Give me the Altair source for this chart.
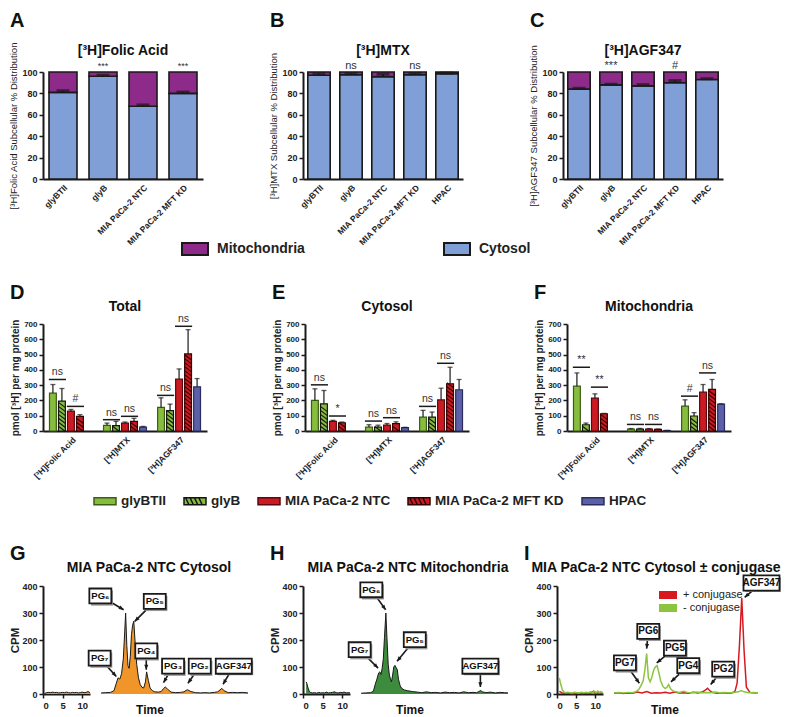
import json
import math

import altair as alt
import pandas as pd

FONT = "Liberation Sans"
INK = "#1a1a1a"
TXT = "#222222"

# ------------------------------------------------------------------ data
cells4 = ["glyBTII", "glyB", "MIA PaCa-2 NTC", "MIA PaCa-2 MFT KD"]
cells5 = ["glyBTII", "glyB", "MIA PaCa-2 NTC", "MIA PaCa-2 MFT KD", "HPAC"]
compartments = ["Mitochondria", "Cytosol"]

# Panels A-C: % of label found in the cytosol (mitochondria = remainder)
fa_cytosol = [81, 96, 68, 80]
fa_err = [1.5, 1.0, 1.2, 1.2]
fa_sig = ["", "***", "", "***"]
mtx_cytosol = [97.0, 97.5, 95.5, 97.5, 98.5]
mtx_err = [1.5, 1.0, 2.5, 1.0, 0.5]
mtx_sig = ["", "ns", "", "ns", ""]
agf_cytosol = [84, 88, 87, 90, 93]
agf_err = [0.8, 0.6, 1.2, 2.0, 0.8]
agf_sig = ["", "***", "", "#", ""]

# Panels D-F: pmol per mg protein (rows = compound, cols = cell line)
compounds = ["[³H]Folic Acid", "[³H]MTX", "[³H]AGF347"]
total_mean = [[248, 196, 130, 96, None], [37, 35, 52, 63, 26], [154, 133, 339, 504, 289]]
total_err = [[56, 82, 11, 11, None], [15, 28, 7, 20, 4], [63, 43, 67, 159, 54]]
total_sig = [(0, 0, 1, 337, "ns"), (0, 2, 3, 161, "#"), (1, 0, 1, 74, "ns"),
             (1, 2, 3, 96, "ns"), (2, 0, 1, 233, "ns"), (2, 2, 3, 685, "ns")]
cyto_mean = [[200, 178, 63, 54, None], [26, 26, 39, 48, 22], [91, 91, 204, 309, 270]]
cyto_err = [[76, 87, 7, 5, None], [15, 12, 10, 12, 2], [44, 33, 76, 108, 67]]
cyto_sig = [(0, 0, 1, 302, "ns"), (0, 2, 3, 98, "*"), (1, 0, 1, 65, "ns"),
            (1, 2, 3, 87, "ns"), (2, 0, 1, 161, "ns"), (2, 2, 3, 443, "ns")]
mito_mean = [[293, 41, 215, 113, None], [12, 12, 12, 10, 3], [163, 98, 254, 272, 176]]
mito_err = [[87, 11, 28, 2, None], [4, 5, 4, 3, 1], [41, 22, 50, 65, 2]]
mito_sig = [(0, 0, 1, 417, "**"), (0, 2, 3, 287, "**"), (1, 0, 1, 43, "ns"),
            (1, 2, 3, 43, "ns"), (2, 0, 1, 228, "#"), (2, 2, 3, 380, "ns")]

# Panels G-I: radio-HPLC traces (time, CPM)
g_left = [(0.5, 3), (1.0, 5), (1.5, 6), (2.0, 5), (2.5, 7), (3.0, 5), (3.5, 6), (4.0, 4),
          (4.5, 5), (5.0, 6), (5.5, 5), (6.0, 7), (6.5, 5), (7.0, 4), (7.5, 6), (8.0, 5),
          (8.5, 6), (9.0, 4), (9.5, 5), (10.0, 7), (10.5, 5), (11.0, 6), (11.5, 9), (12.0, 5)]
g_right = [(12.4, 4), (12.8, 5), (13.2, 6), (13.5, 12), (13.7, 40), (13.85, 60), (14.0, 55),
           (14.15, 75), (14.3, 130), (14.42, 230), (14.5, 300), (14.6, 180), (14.7, 105),
           (14.8, 95), (14.9, 140), (15.0, 220), (15.1, 255), (15.2, 270), (15.3, 200),
           (15.45, 110), (15.6, 60), (15.75, 35), (15.9, 25), (16.05, 22), (16.2, 45),
           (16.3, 82), (16.45, 50), (16.6, 22), (16.8, 12), (17.0, 8), (17.3, 7), (17.55, 9),
           (17.75, 20), (17.9, 26), (18.1, 18), (18.4, 7), (18.8, 5), (19.2, 6), (19.5, 8),
           (19.8, 16), (20.1, 9), (20.5, 5), (20.9, 4), (21.3, 5), (21.7, 4), (22.1, 6),
           (22.4, 8), (22.6, 15), (22.75, 21), (22.95, 12), (23.3, 5), (23.7, 6), (24.1, 5),
           (24.5, 6), (25.0, 4)]
h_left = [(0.8, 45), (1.0, 38), (1.3, 22), (1.6, 10), (2.0, 5), (2.5, 4), (3.0, 5), (3.5, 3),
          (4.0, 6), (4.5, 4), (5.0, 5), (5.5, 4), (6.0, 7), (6.5, 4), (7.0, 5), (7.5, 6),
          (8.0, 8), (8.5, 5), (9.0, 4), (9.5, 6), (10.0, 5), (10.5, 7), (11.0, 4), (11.5, 5),
          (12.0, 4)]
h_right = [(12.4, 3), (12.8, 4), (13.2, 5), (13.45, 10), (13.6, 35), (13.75, 55), (13.9, 78),
           (14.0, 82), (14.1, 72), (14.2, 95), (14.3, 130), (14.4, 210), (14.52, 300),
           (14.62, 200), (14.72, 110), (14.82, 70), (14.92, 55), (15.0, 45), (15.1, 70),
           (15.2, 100), (15.3, 106), (15.4, 98), (15.5, 90), (15.6, 55), (15.75, 30),
           (15.9, 20), (16.1, 15), (16.4, 12), (16.8, 9), (17.2, 7), (17.6, 5), (18.0, 8),
           (18.4, 5), (18.8, 6), (19.2, 4), (19.6, 7), (20.0, 5), (20.4, 6), (20.8, 4),
           (21.2, 8), (21.6, 5), (22.0, 6), (22.3, 5), (22.5, 9), (22.65, 13), (22.8, 8),
           (23.1, 5), (23.5, 7), (23.9, 4), (24.3, 6), (24.7, 5), (25.0, 4)]
i_minus_left = [(0.6, 60), (1.0, 35), (1.4, 15), (1.8, 8), (2.2, 5), (2.8, 6), (3.4, 5),
                (4.0, 4), (4.6, 6), (5.2, 5), (5.8, 4), (6.4, 6), (7.0, 5), (7.6, 6), (8.2, 5),
                (8.8, 8), (9.4, 6), (9.8, 10), (10.2, 5), (10.6, 11), (11.0, 6), (11.4, 9),
                (12.0, 5)]
i_plus_left = [(0.6, 10), (1.0, 7), (1.4, 4), (1.8, 3), (2.4, 3), (3.0, 4), (3.6, 2), (4.2, 3),
               (4.8, 2), (5.4, 3), (6.0, 4), (6.6, 2), (7.2, 3), (7.8, 4), (8.4, 3), (9.0, 5),
               (9.5, 10), (9.9, 4), (10.4, 3), (11.0, 5), (11.5, 3), (12.0, 4)]
i_minus_right = [(12.6, 5), (13.0, 6), (13.4, 4), (13.8, 6), (14.2, 5), (14.5, 9), (14.75, 18),
                 (14.95, 35), (15.1, 48), (15.25, 90), (15.4, 150), (15.55, 60), (15.7, 45),
                 (15.85, 62), (16.0, 88), (16.15, 100), (16.3, 105), (16.45, 80), (16.6, 50),
                 (16.8, 28), (17.0, 20), (17.15, 25), (17.3, 35), (17.45, 20), (17.65, 12),
                 (17.9, 8), (18.2, 6), (18.6, 10), (18.9, 6), (19.3, 5), (19.7, 7), (20.1, 5),
                 (20.5, 6), (20.9, 5), (21.3, 7), (21.7, 5), (22.1, 6), (22.5, 5), (22.9, 6),
                 (23.3, 8), (23.55, 13), (23.8, 8), (24.2, 5), (24.6, 6), (25.0, 5)]
i_plus_right = [(12.6, 3), (13.0, 5), (13.4, 2), (13.8, 4), (14.2, 3), (14.6, 7), (15.0, 4),
                (15.4, 9), (15.8, 3), (16.2, 5), (16.6, 4), (17.0, 6), (17.4, 3), (17.8, 7),
                (18.2, 4), (18.6, 5), (19.0, 3), (19.4, 6), (19.8, 4), (20.2, 7), (20.45, 14),
                (20.65, 21), (20.85, 12), (21.1, 5), (21.5, 3), (21.9, 5), (22.3, 3), (22.7, 4),
                (23.0, 8), (23.2, 40), (23.4, 180), (23.6, 355), (23.8, 160), (24.0, 25),
                (24.3, 6), (24.7, 4), (25.0, 5)]
conjugase = ["+ conjugase", "- conjugase"]

# annotation callouts: (label, box time, box CPM, arrow-tip time, arrow-tip CPM)
g_notes = [("PG₆", 12.33, 363, 14.33, 312), ("PG₅", 17.0, 343, 15.28, 269),
           ("PG₇", 12.27, 133, 13.7, 65), ("PG₄", 16.27, 160, 16.27, 90),
           ("PG₃", 18.57, 103, 17.75, 42), ("PG₂", 20.86, 103, 19.85, 40),
           ("AGF347", 23.78, 103, 22.86, 36)]
h_notes = [("PG₆", 13.27, 386, 14.5, 312), ("PG₇", 12.27, 164, 13.85, 96),
           ("PG₅", 17.0, 201, 15.48, 121), ("AGF347", 22.63, 103, 22.63, 26)]
i_notes = [("PG6", 15.54, 232, 15.4, 168), ("PG5", 17.84, 170, 16.27, 115),
           ("PG7", 13.53, 115, 14.77, 40), ("PG4", 18.99, 105, 17.5, 45),
           ("PG2", 22.0, 92, 20.92, 35), ("AGF347", 25.3, 411, 23.85, 358)]

# ------------------------------------------------------------------ styles
compartment_colors = ["#8e2a8a", "#7f9fd6"]
line_fill = ["#86bd3e", "#86bd3e", "#cc1a22", "#cc1a22", "#5b60a8"]
line_stroke = ["#3d5c15", "#141414", "#5a0a0e", "#2e0505", "#2a2d5e"]
RECT = "M -1 -0.32 L 1 -0.32 L 1 0.32 L -1 0.32 Z"
HATCHED = RECT + (" M -0.85 -0.32 L -0.55 0.32 M -0.45 -0.32 L -0.15 0.32"
                  " M -0.05 -0.32 L 0.25 0.32 M 0.35 -0.32 L 0.65 0.32")
legend_shapes = [RECT, HATCHED, RECT, HATCHED, RECT]
conj_colors = ["#d7191f", "#8cc43f"]


def text_layer(text, x, y, size, weight="bold", align="left", color="#111111"):
    return alt.Chart(pd.DataFrame({"label": [text]})).mark_text(
        font=FONT, fontSize=size, fontWeight=weight, align=align,
        baseline="alphabetic", color=color,
    ).encode(text="label:N", x=alt.value(x), y=alt.value(y))


# ------------------------------------------------------------------ row 1
W1, H1 = 160, 107
leg1 = alt.Legend(
    title=None, orient="none", legendX=138, legendY=163, direction="horizontal",
    symbolType="M -1 -0.46 L 1 -0.46 L 1 0.46 L -1 0.46 Z", symbolSize=676,
    symbolStrokeColor=INK, symbolStrokeWidth=2, labelFont=FONT, labelFontSize=14,
    labelFontWeight="bold", labelColor=TXT, labelOffset=8, columnPadding=135,
)


def dist_panel(letter, title, ytitle, cells, cyto, err, sig, sigsize, legend):
    n = len(cells)
    long = pd.DataFrame({
        "cell": list(cells) * 2,
        "part": ["Cytosol"] * n + ["Mitochondria"] * n,
        "pct": list(cyto) + [round(100 - v, 2) for v in cyto],
        "ord": [0] * n + [1] * n,
    })
    summ = pd.DataFrame({"cell": cells, "cyto": cyto, "err": err, "sig": sig})
    xs = alt.Scale(domain=cells, paddingInner=0.3, paddingOuter=0.15)
    xax = alt.Axis(title=None, labelAngle=-45, labelFontSize=8.5, labelPadding=4, ticks=False)
    x = alt.X("cell:N", scale=xs, axis=xax)
    ys = alt.Scale(domain=[0, 100], nice=False)
    yax = alt.Axis(values=[0, 20, 40, 60, 80, 100], title=ytitle, titleFontSize=9.5,
                   titleFontWeight="normal", titlePadding=3, labelFontSize=9)
    bars = alt.Chart(long).mark_bar(stroke=INK, strokeWidth=1.6).encode(
        x=x,
        y=alt.Y("pct:Q", stack="zero", scale=ys, axis=yax),
        fill=alt.Fill("part:N", scale=alt.Scale(domain=compartments, range=compartment_colors),
                      legend=legend),
        order=alt.Order("ord:Q"),
    )
    eb = alt.Chart(summ).transform_calculate(hi="datum.cyto + datum.err")
    rule = eb.mark_rule(color=INK, strokeWidth=2).encode(
        x=x, y=alt.Y("cyto:Q", scale=ys, axis=yax), y2="hi:Q")
    cap = eb.mark_tick(color=INK, thickness=3, size=13, orient="horizontal").encode(
        x=x, y=alt.Y("hi:Q", scale=ys, axis=yax))
    st = alt.Chart(summ).mark_text(font=FONT, fontSize=sigsize, color="#333333", dy=-3,
                                   baseline="alphabetic").encode(
        x=x, y=alt.Y(datum=100, scale=ys, axis=yax), text="sig:N")
    head = text_layer(title, W1 / 2, -17, 14, align="center")
    let = text_layer(letter, -33, -45, 20)
    return alt.layer(bars, rule, cap, st, head, let).properties(width=W1, height=H1)


A = dist_panel("A", "[³H]Folic Acid", "[³H]Folic Acid Subcellular % Distribution",
               cells4, fa_cytosol, fa_err, fa_sig, 9, leg1)
B = dist_panel("B", "[³H]MTX", "[³H]MTX Subcellular % Distribution",
               cells5, mtx_cytosol, mtx_err, mtx_sig, 11, None)
C = dist_panel("C", "[³H]AGF347", "[³H]AGF347 Subcellular  % Distribution",
               cells5, agf_cytosol, agf_err, agf_sig, 11, None)
row1 = alt.hconcat(A, B, C, spacing=100, bounds="flush").resolve_scale(fill="independent")

# ------------------------------------------------------------------ row 2
W2, H2 = 164, 107
leg2 = alt.Legend(
    title=None, orient="none", legendX=50, legendY=165, direction="horizontal",
    symbolSize=484, symbolStrokeWidth=1.5, labelFont=FONT, labelFontSize=13.5,
    labelFontWeight="bold", labelColor=TXT, labelOffset=4, columnPadding=14,
)


def amount_panel(letter, title, means, errs, sigs, legend):
    rows = []
    for gi, comp in enumerate(compounds):
        for ci, cell in enumerate(cells5):
            if means[gi][ci] is None:
                continue
            rows.append({"compound": comp, "gi": gi, "ci": ci, "cell": cell,
                         "v": means[gi][ci], "e": errs[gi][ci]})
    df = pd.DataFrame(rows)
    sdf = pd.DataFrame(sigs, columns=["gi", "a", "b", "h", "txt"])
    xs = alt.Scale(domain=[-1.1, 17.1], nice=False, zero=False)
    label_expr = json.dumps(compounds, ensure_ascii=False) + "[round((datum.value - 2) / 6)]"
    xax = alt.Axis(title=None, values=[2, 8, 14], labelExpr=label_expr, labelAngle=-45,
                   ticks=False, labelFontSize=8.5, labelPadding=4)
    ys = alt.Scale(domain=[0, 700], nice=False)
    yax = alt.Axis(values=list(range(0, 701, 100)), title="pmol [³H] per mg protein",
                   titleFontSize=10, titleFontWeight="bold", labelFontSize=8, titlePadding=3)
    fill_enc = alt.Fill("cell:N", scale=alt.Scale(domain=cells5, range=line_fill), legend=legend)
    stroke_enc = alt.Stroke("cell:N", scale=alt.Scale(domain=cells5, range=line_stroke), legend=legend)
    shape_enc = alt.Shape("cell:N", scale=alt.Scale(domain=cells5, range=legend_shapes), legend=legend)

    base = alt.Chart(df).transform_calculate(slot="datum.gi * 6 + datum.ci")
    bars = base.transform_calculate(x0="datum.slot - 0.38", x1="datum.slot + 0.38").mark_rect(
        strokeWidth=1.2).encode(
        x=alt.X("x0:Q", scale=xs, axis=xax), x2="x1:Q",
        y=alt.Y("v:Q", scale=ys, axis=yax), y2=alt.Y2(datum=0),
        fill=fill_enc, stroke=stroke_enc)
    hatch = base.transform_filter(
        alt.FieldOneOfPredicate(field="cell", oneOf=[cells5[1], cells5[3]])
    ).transform_calculate(hy="sequence(14, datum.v - 8, 26)").transform_flatten(["hy"]).mark_point(
        shape="M -1 -0.75 L 1 0.75", size=40, filled=False, strokeWidth=1.1, opacity=1).encode(
        x=alt.X("slot:Q", scale=xs, axis=xax), y=alt.Y("hy:Q", scale=ys, axis=yax), stroke=stroke_enc)
    eb = base.transform_calculate(hi="datum.v + datum.e")
    erule = eb.mark_rule(color=INK, strokeWidth=1.2).encode(
        x=alt.X("slot:Q", scale=xs, axis=xax), y=alt.Y("v:Q", scale=ys, axis=yax), y2="hi:Q")
    ecap = eb.mark_tick(color=INK, thickness=1.3, size=5, orient="horizontal").encode(
        x=alt.X("slot:Q", scale=xs, axis=xax), y=alt.Y("hi:Q", scale=ys, axis=yax))
    ghost = base.mark_point(filled=True, size=0, opacity=1, strokeWidth=1.5).encode(
        x=alt.X("slot:Q", scale=xs, axis=xax), y=alt.Y("v:Q", scale=ys, axis=yax),
        fill=fill_enc, stroke=stroke_enc, shape=shape_enc)
    sg = alt.Chart(sdf).transform_calculate(
        xa="datum.gi * 6 + datum.a - 0.45", xb="datum.gi * 6 + datum.b + 0.45",
        xm="datum.gi * 6 + (datum.a + datum.b) / 2")
    srule = sg.mark_rule(color=INK, strokeWidth=1.5).encode(
        x=alt.X("xa:Q", scale=xs, axis=xax), x2="xb:Q", y=alt.Y("h:Q", scale=ys, axis=yax))
    stext = sg.mark_text(font=FONT, fontSize=10.5, color="#333333", dy=-4,
                         baseline="alphabetic").encode(
        x=alt.X("xm:Q", scale=xs, axis=xax), y=alt.Y("h:Q", scale=ys, axis=yax), text="txt:N")
    head = text_layer(title, W2 / 2, -13, 14, align="center")
    let = text_layer(letter, -33, -25, 20)
    return alt.layer(bars, hatch, erule, ecap, srule, stext, ghost, head, let).properties(
        width=W2, height=H2)


D = amount_panel("D", "Total", total_mean, total_err, total_sig, leg2)
E = amount_panel("E", "Cytosol", cyto_mean, cyto_err, cyto_sig, None)
F = amount_panel("F", "Mitochondria", mito_mean, mito_err, mito_sig, None)
row2 = alt.hconcat(D, E, F, spacing=98, bounds="flush").resolve_scale(
    fill="independent", stroke="independent", shape="independent")

# ------------------------------------------------------------------ row 3
H3 = 108
KY = H3 / 400.0
ys3 = alt.Scale(domain=[0, 400], nice=False)
yax3 = alt.Axis(values=[0, 100, 200, 300, 400], title="CPM", titleFontSize=11.5,
                titleFontWeight="bold", labelFontSize=9, titlePadding=1)


def pairs_df(pairs, series):
    return pd.DataFrame({"t": [p[0] for p in pairs], "cpm": [p[1] for p in pairs],
                         "series": series})


def xax3(vals):
    return alt.Axis(values=vals, title=None, labelFontSize=9.5, tickSize=4)


def notes_layers(notes, xs, kx, fontsize):
    df = pd.DataFrame(notes, columns=["label", "bt", "bc", "tt", "tc"])
    df["ang"] = [math.degrees(math.atan2((r.tt - r.bt) * kx, (r.tc - r.bc) * KY)) % 360
                 for r in df.itertuples()]
    df["wide"] = df["label"] == "AGF347"
    base = alt.Chart(df)
    xb = alt.X("bt:Q", scale=xs, axis=None)
    yb = alt.Y("bc:Q", scale=ys3, axis=None)
    line = base.mark_rule(color=INK, strokeWidth=1.6).encode(
        x=xb, y=yb, x2="tt:Q", y2="tc:Q")
    head = base.mark_point(shape="M 0 0 L 0.8 1.9 L -0.8 1.9 Z", size=26, filled=True,
                           color=INK, opacity=1).encode(
        x=alt.X("tt:Q", scale=xs, axis=None), y=alt.Y("tc:Q", scale=ys3, axis=None),
        angle=alt.Angle("ang:Q", scale=None))
    small = base.transform_filter("!datum.wide")
    wide = base.transform_filter("datum.wide")
    sh_small = small.mark_point(shape="M -0.85 -0.5 L 1.15 -0.5 L 1.15 0.88 L -0.85 0.88 Z",
                                size=484, filled=True, color="#9a9a9a", opacity=1).encode(x=xb, y=yb)
    sh_wide = wide.mark_point(shape="M -0.9 -0.3 L 1.08 -0.3 L 1.08 0.5 L -0.9 0.5 Z",
                              size=1296, filled=True, color="#9a9a9a", opacity=1).encode(x=xb, y=yb)
    box_small = small.mark_point(shape="M -1 -0.68 L 1 -0.68 L 1 0.68 L -1 0.68 Z", size=484,
                                 filled=True, fill="white", stroke=INK, strokeWidth=1.8,
                                 opacity=1).encode(x=xb, y=yb)
    box_wide = wide.mark_point(shape="M -1 -0.42 L 1 -0.42 L 1 0.42 L -1 0.42 Z", size=1296,
                               filled=True, fill="white", stroke=INK, strokeWidth=1.8,
                               opacity=1).encode(x=xb, y=yb)
    txt = base.mark_text(font=FONT, fontSize=fontsize, fontWeight="bold", color="#111111",
                         baseline="middle", align="center").encode(x=xb, y=yb, text="label:N")
    return [line, head, sh_small, sh_wide, box_small, box_wide, txt]


def area_panel(letter, title, title_x, left, right, notes, fillc):
    xsl = alt.Scale(domain=[0, 12], nice=False, zero=False)
    xsr = alt.Scale(domain=[12.3, 25], nice=False, zero=False)
    kx = 148 / (25 - 12.3)
    ovl = alt.OverlayMarkDef(color=INK, strokeWidth=1)
    lchart = alt.Chart(pairs_df(left, "trace")).mark_area(color=fillc, line=ovl, opacity=1).encode(
        x=alt.X("t:Q", scale=xsl, axis=xax3([0, 5, 10])),
        y=alt.Y("cpm:Q", scale=ys3, axis=yax3))
    lpanel = alt.layer(lchart, text_layer(letter, -33, -26, 20)).properties(width=47, height=H3)
    rchart = alt.Chart(pairs_df(right, "trace")).mark_area(color=fillc, line=ovl, opacity=1).encode(
        x=alt.X("t:Q", scale=xsr, axis=xax3([15, 20, 25])),
        y=alt.Y("cpm:Q", scale=ys3, axis=None))
    layers = [rchart] + notes_layers(notes, xsr, kx, 9.5) + [
        text_layer(title, title_x, -14, 14, align="center"),
        text_layer("Time", 50, H3 + 20, 12, align="center")]
    rpanel = alt.layer(*layers).properties(width=148, height=H3)
    return alt.hconcat(lpanel, rpanel, spacing=10, bounds="flush")


legI = alt.Legend(
    title=None, orient="none", legendX=42, legendY=4, direction="vertical",
    symbolType="M -1 0 L 1 0", symbolSize=324, symbolStrokeWidth=8, clipHeight=10,
    labelFont=FONT, labelFontSize=11, labelFontWeight="normal", labelColor=TXT,
    labelOffset=2, rowPadding=2,
)


def line_panel():
    xsl = alt.Scale(domain=[0, 12], nice=False, zero=False)
    xsr = alt.Scale(domain=[12.5, 25], nice=False, zero=False)
    kx = 145 / (25 - 12.5)
    sc = alt.Scale(domain=conjugase, range=conj_colors)
    ldf = pd.concat([pairs_df(i_plus_left, conjugase[0]), pairs_df(i_minus_left, conjugase[1])])
    rdf = pd.concat([pairs_df(i_plus_right, conjugase[0]), pairs_df(i_minus_right, conjugase[1])])
    lchart = alt.Chart(ldf).mark_line().encode(
        x=alt.X("t:Q", scale=xsl, axis=xax3([0, 5, 10])),
        y=alt.Y("cpm:Q", scale=ys3, axis=yax3),
        stroke=alt.Stroke("series:N", scale=sc, legend=None),
        strokeWidth=alt.value(1.5),
        order=alt.Order("t:Q"))
    lpanel = alt.layer(lchart, text_layer("I", -33, -26, 20)).properties(width=46, height=H3)
    rchart = alt.Chart(rdf).mark_line().encode(
        x=alt.X("t:Q", scale=xsr, axis=xax3([15, 20, 25])),
        y=alt.Y("cpm:Q", scale=ys3, axis=None),
        stroke=alt.Stroke("series:N", scale=sc, legend=legI),
        strokeWidth=alt.value(1.5),
        order=alt.Order("t:Q"))
    layers = [rchart] + notes_layers(i_notes, xsr, kx, 10) + [
        text_layer("MIA PaCa-2 NTC Cytosol ± conjugase", 43, -14, 14, align="center"),
        text_layer("Time", 52, H3 + 20, 12, align="center")]
    rpanel = alt.layer(*layers).properties(width=145, height=H3)
    return alt.hconcat(lpanel, rpanel, spacing=10, bounds="flush").resolve_scale(
        fill="independent", stroke="independent")


G = area_panel("G", "MIA PaCa-2  NTC Cytosol", 49, g_left, g_right, g_notes, "#f0952a")
Hh = area_panel("H", "MIA PaCa-2 NTC Mitochondria", 48, h_left, h_right, h_notes, "#3d8b3d")
I = line_panel()
row3 = alt.hconcat(G, Hh, I, spacing=13).resolve_scale(
    fill="independent", stroke="independent")

top = alt.vconcat(row1, row2, spacing=24).resolve_scale(
    fill="independent", stroke="independent", shape="independent")

chart = alt.vconcat(top, row3, spacing=36).resolve_scale(
    fill="independent", stroke="independent", shape="independent"
).properties(padding={"top": 3, "left": 0, "right": 0, "bottom": 0}).configure(
    font=FONT
).configure_axis(
    domainColor=INK, domainWidth=2, tickColor=INK, tickWidth=1.5, tickSize=4,
    labelFont=FONT, labelFontWeight="bold", labelColor=TXT, titleFont=FONT, titleColor=TXT,
    grid=False, labelPadding=2,
).configure_view(stroke=None)

chart.save("out.html", embed_options={"renderer": "svg", "actions": False})
